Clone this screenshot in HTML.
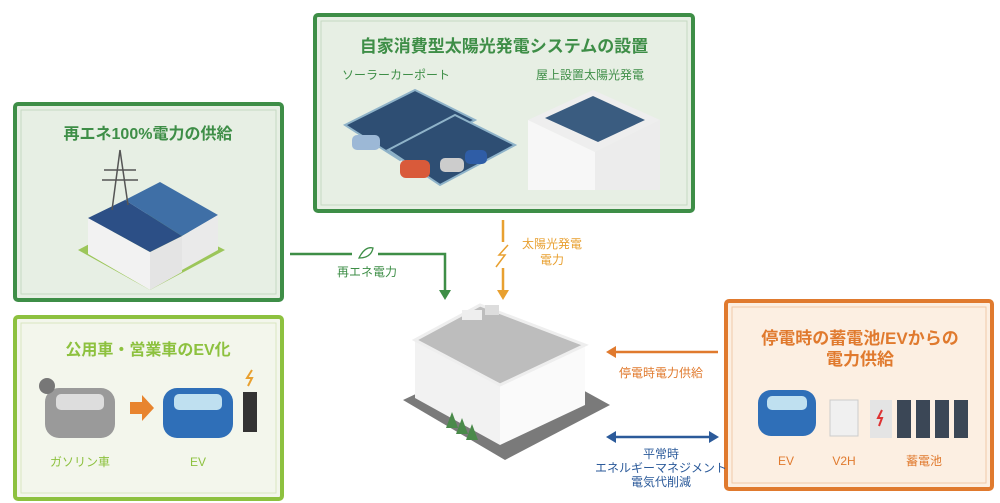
<!DOCTYPE html>
<html><head><meta charset="utf-8">
<style>
body{margin:0;width:1000px;height:503px;background:#fff;overflow:hidden;font-family:"Liberation Sans","Noto Sans CJK JP",sans-serif;}
svg{position:absolute;left:0;top:0}
</style></head><body>
<svg width="1000" height="503" viewBox="0 0 1000 503" font-family="Liberation Sans, Noto Sans CJK JP, sans-serif">
<!-- Boxes -->
<rect x="15" y="104" width="267" height="196" rx="3" fill="#e7efe4" stroke="#3e8e47" stroke-width="4"/>
<rect x="21" y="110" width="255" height="184" fill="none" stroke="#c5d9c2" stroke-width="1"/>
<rect x="315" y="15" width="378" height="196" rx="3" fill="#e7efe4" stroke="#3e8e47" stroke-width="4"/>
<rect x="321" y="21" width="366" height="184" fill="none" stroke="#c5d9c2" stroke-width="1"/>
<rect x="15" y="317" width="267" height="182" rx="3" fill="#f3f6ec" stroke="#8dc13f" stroke-width="4"/>
<rect x="21" y="323" width="255" height="170" fill="none" stroke="#d8e6bf" stroke-width="1"/>
<rect x="726" y="301" width="266" height="188" rx="3" fill="#fcefe2" stroke="#e07a2e" stroke-width="4"/>
<rect x="732" y="307" width="254" height="176" fill="none" stroke="#efc9a8" stroke-width="1"/>

<!-- titles -->
<g font-weight="bold" text-anchor="middle">
<text x="504" y="52" font-size="17" fill="#3e8e47">自家消費型太陽光発電システムの設置</text>
<text x="148" y="139" font-size="16" fill="#3e8e47">再エネ100%電力の供給</text>
<text x="148" y="355" font-size="16" fill="#8dc13f">公用車・営業車のEV化</text>
<text x="860" y="344" font-size="17" fill="#e07a2e">停電時の蓄電池/EVからの</text>
<text x="860" y="365" font-size="17" fill="#e07a2e">電力供給</text>
</g>
<g text-anchor="middle" font-size="12">
<text x="396" y="79" fill="#3e8e47">ソーラーカーポート</text>
<text x="590" y="79" fill="#3e8e47">屋上設置太陽光発電</text>
<text x="80" y="466" fill="#8dc13f">ガソリン車</text>
<text x="198" y="466" fill="#8dc13f">EV</text>
<text x="786" y="465" fill="#e07a2e">EV</text>
<text x="844" y="465" fill="#e07a2e">V2H</text>
<text x="924" y="465" fill="#e07a2e">蓄電池</text>
<text x="367" y="276" fill="#3e8e47">再エネ電力</text>
<text x="552" y="248" fill="#e8a030">太陽光発電</text>
<text x="552" y="264" fill="#e8a030">電力</text>
<text x="661" y="377" fill="#e07a2e">停電時電力供給</text>
<text x="661" y="458" fill="#2b5a9a">平常時</text>
<text x="661" y="472" fill="#2b5a9a">エネルギーマネジメント</text>
<text x="661" y="486" fill="#2b5a9a">電気代削減</text>
</g>

<!-- connectors -->
<path d="M290,254 H352 M378,254 H445 V292" stroke="#3e8e47" stroke-width="2.5" fill="none"/>
<path d="M439,290 L451,290 L445,300z" fill="#3e8e47"/>
<path d="M359,258 q6,-12 14,-10 q-2,10 -14,10z" fill="none" stroke="#3e8e47" stroke-width="1.3"/>
<path d="M503,220 V242 M503,268 V290" stroke="#e8a030" stroke-width="2.5"/>
<path d="M497,290 L509,290 L503,300z" fill="#e8a030"/>
<path d="M508,245 l-9,10 h6 l-9,12" stroke="#e8a030" stroke-width="1.5" fill="none"/>
<path d="M718,352 H612" stroke="#e07a2e" stroke-width="2.5"/>
<path d="M606,352 L616,346 L616,358z" fill="#e07a2e"/>
<path d="M612,437 H713" stroke="#2b5a9a" stroke-width="2.5"/>
<path d="M606,437 L616,431 L616,443z M719,437 L709,431 L709,443z" fill="#2b5a9a"/>

<!-- center building -->
<polygon points="403,400 505,460 610,405 510,350" fill="#7a7a7a"/>
<polygon points="415,340 500,385 500,445 415,398" fill="#f2f2f2"/>
<polygon points="500,385 585,345 585,405 500,445" fill="#fafafa"/>
<polygon points="415,340 480,305 585,345 500,385" fill="#bdbdbd" stroke="#eee" stroke-width="3"/>
<rect x="462" y="310" width="20" height="10" fill="#eee"/>
<rect x="485" y="305" width="14" height="10" fill="#ddd"/>
<g fill="#4a8a4a"><polygon points="452,412 446,428 458,428"/><polygon points="462,418 456,434 468,434"/><polygon points="472,424 466,440 478,440"/></g>

<!-- left top factory -->
<polygon points="78,250 150,290 225,250 150,212" fill="#9cc65a"/>
<polygon points="88,218 150,252 150,290 88,254" fill="#f2f2f2"/>
<polygon points="150,252 182,236 182,272 150,290" fill="#e4e4e4"/>
<polygon points="88,218 125,200 182,236 150,252" fill="#2c4f86"/>
<polygon points="125,200 160,182 218,215 182,236" fill="#3f6fa6"/>
<polygon points="182,236 218,215 218,250 182,270" fill="#eaeaea"/>
<path d="M120,150 L112,210 M120,150 L128,205 M104,170 H136 M102,180 H138" stroke="#555" stroke-width="1.5" fill="none"/>

<!-- top carport -->
<polygon points="345,125 415,90 475,120 400,160" fill="#2e4e73" stroke="#8fb3c9" stroke-width="2"/>
<polygon points="388,150 455,115 515,145 440,185" fill="#2e4e73" stroke="#8fb3c9" stroke-width="2"/>
<rect x="400" y="160" width="30" height="18" rx="6" fill="#d95a3a"/>
<rect x="440" y="158" width="24" height="14" rx="5" fill="#ccc"/>
<rect x="465" y="150" width="22" height="14" rx="5" fill="#2f5da6"/>
<rect x="352" y="135" width="28" height="15" rx="5" fill="#9cb8d6"/>
<!-- rooftop -->
<polygon points="528,120 593,90 660,120 595,152" fill="#eee"/>
<polygon points="545,118 593,96 645,120 598,142" fill="#3a5c80"/>
<polygon points="528,120 595,152 595,190 528,190" fill="#f7f7f7"/>
<polygon points="595,152 660,120 660,190 595,190" fill="#ececec"/>

<!-- left bottom cars -->
<rect x="45" y="388" width="70" height="50" rx="14" fill="#9a9a9a"/>
<rect x="56" y="394" width="48" height="16" rx="5" fill="#ddd"/>
<circle cx="47" cy="386" r="8" fill="#777"/>
<polygon points="130,402 142,402 142,395 154,408 142,421 142,414 130,414" fill="#e8842e"/>
<rect x="163" y="388" width="70" height="50" rx="14" fill="#2f6fb8"/>
<rect x="174" y="394" width="48" height="16" rx="5" fill="#bfe0f0"/>
<rect x="243" y="392" width="14" height="40" fill="#333"/>
<path d="M252,370 l-5,8 h5 l-4,8" stroke="#e8a030" stroke-width="2" fill="none"/>

<!-- right box items -->
<rect x="758" y="390" width="58" height="46" rx="13" fill="#2f6fb8"/>
<rect x="767" y="396" width="40" height="14" rx="5" fill="#bfe0f0"/>
<rect x="830" y="400" width="28" height="36" fill="#f0f0f0" stroke="#ccc"/>
<rect x="870" y="400" width="22" height="38" fill="#e4e4e4"/>
<path d="M882,410 l-4,8 h4 l-3,8" stroke="#d33" stroke-width="2" fill="none"/>
<g fill="#3b4756"><rect x="897" y="400" width="14" height="38"/><rect x="916" y="400" width="14" height="38"/><rect x="935" y="400" width="14" height="38"/><rect x="954" y="400" width="14" height="38"/></g>
</svg>
</body></html>
